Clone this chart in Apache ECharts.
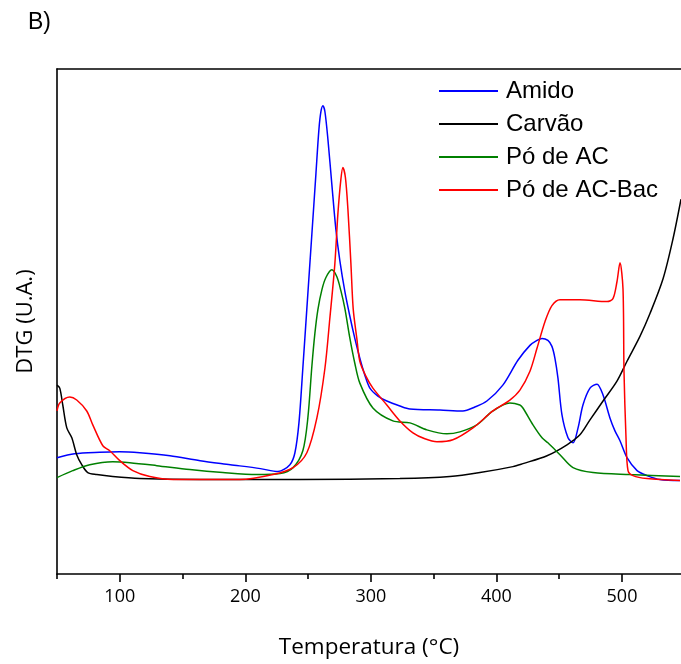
<!DOCTYPE html>
<html>
<head>
<meta charset="utf-8">
<script src="https://cdn.jsdelivr.net/npm/echarts@6/dist/echarts.min.js"></script>
<style>
  html, body { margin: 0; padding: 0; background: #fff; }
  #chart { width: 681px; height: 664px; }
</style>
</head>
<body>
<div id="chart"></div>
<script>
// values: temperature (°C) and DTG height (arbitrary units)
const amidoT = [50, 64, 84, 100, 116, 140, 164, 188, 212, 226, 235.5, 239.5, 242.7, 245.8, 249, 253, 256.2, 258.6, 260.2, 261.8, 263.4, 265.8, 268.9, 272.1, 275.3, 279.3, 283.3, 287.2, 291.2, 295.2, 299.2, 305.6, 312.7, 323.1, 331.1, 355, 373.3, 382.8, 392.4, 405.1, 417.1, 426.7, 432.3, 436.3, 441, 444.2, 446.6, 449, 452.2, 457, 461, 465, 468.9, 474.5, 480.1, 484.9, 490.4, 494.4, 498.4, 504, 512, 519.9, 530.3, 546.2]
const amidoV = [117, 121, 122.5, 123, 122, 119, 114, 110, 106, 103, 110, 122, 152, 207, 267, 342, 402, 447, 465, 471, 465, 437, 392, 347, 315, 284, 259, 237, 217, 200, 187, 179, 174, 169, 166, 165, 164, 168, 174, 190, 215, 230, 235, 237, 235, 229, 217, 197, 160, 137, 132, 147, 170, 187, 191, 180, 157, 144, 134, 117, 104, 99, 95, 94]

const carvaoT = [50, 52.2, 54.6, 57.8, 61.8, 65.7, 69.7, 74.5, 81.7, 94.4, 115.9, 163.9, 243.4, 323.1, 362.9, 386.9, 413.1, 421.1, 440.3, 456.2, 466.5, 474.5, 484.9, 496, 504, 514.3, 522.3, 532.7, 540.6, 547]
const carvaoV = [190, 187, 170, 147, 137, 120, 110, 102, 100, 98, 96, 95, 95, 96, 98, 102, 108, 111, 119, 130, 140, 155, 174, 194, 214, 239, 262, 297, 337, 377]

const poACT = [50, 62.5, 76.1, 94.4, 108, 129.5, 155.8, 182.1, 209.2, 227.6, 238, 245.8, 249.8, 253, 255.4, 257.8, 261, 264.1, 268.9, 272.9, 276.1, 279.3, 283.3, 287.2, 291.2, 301.6, 317.5, 331.1, 344.6, 360.5, 370.9, 384.4, 397.2, 410.7, 418.7, 421.1, 429.1, 436.3, 441, 450.6, 461, 476.9, 506.4, 546.2]
const poACV = [97, 104, 110, 113, 112, 109, 105, 102, 100, 101, 107, 124, 157, 209, 242, 266, 286, 298, 306, 299, 285, 267, 237, 212, 192, 167, 154, 152, 145, 141, 143, 150, 164, 172, 170, 167, 150, 137, 132, 120, 107, 102, 100, 98]

const poACBacT = [50, 52.2, 60.2, 65.7, 73.7, 78.5, 86.5, 92, 100, 110.4, 123.9, 142.2, 195.7, 222, 238, 249, 257, 263.4, 267.3, 271.3, 273.7, 276.1, 277.7, 279.7, 281.7, 284.1, 285.9, 288.8, 291.2, 296, 301.6, 312.7, 323.1, 333.5, 343, 352.6, 365.3, 381.3, 397.2, 410.7, 418.7, 426.7, 432.3, 438.7, 444.2, 450.6, 466.5, 488.1, 492.8, 496, 498.4, 500.8, 501.6, 503.2, 504.8, 508.8, 519.9, 546.2]
const poACBacV = [164, 172, 178, 175, 164, 150, 129, 124, 114, 104, 98, 95, 95, 100, 107, 122, 157, 207, 257, 312, 362, 397, 409, 399, 367, 312, 267, 237, 214, 199, 187, 170, 154, 142, 136, 133, 135, 147, 164, 175, 185, 204, 227, 254, 270, 276, 276, 274, 277, 294, 313, 287, 204, 137, 104, 99, 96, 94]

const majorTicks = [100, 200, 300, 400, 500]
const minorTicks = [50, 150, 250, 350, 450]

const names = ['Amido', 'Carvão', 'Pó de AC', 'Pó de AC-Bac']
const colors = ['#0000ff', '#000000', '#008000', '#ff0000']

function pairs(t, v){
  return t.map((x, i) => [x, v[i]])
}

const seriesData = [
  pairs(amidoT, amidoV),
  pairs(carvaoT, carvaoV),
  pairs(poACT, poACV),
  pairs(poACBacT, poACBacV)
]

const chart = echarts.init(document.getElementById('chart'), null, {renderer: 'canvas'})

const axisLineStyle = {color: '#000', width: 1.6}

const options = {
  animation: false,
  backgroundColor: '#fff',
  grid: {left: 57, right: 0, top: 69, bottom: 87},
  legend: {
    orient: 'vertical',
    left: 433,
    top: 74,
    itemWidth: 59,
    itemHeight: 14,
    itemGap: 9,
    data: names,
    itemStyle: {opacity: 0},
    textStyle: {
      fontFamily: 'Liberation Sans',
      fontSize: 24,
      lineHeight: 24,
      color: '#000',
      padding: [0, 0, 0, 3]
    }
  },
  graphic: [{
    type: 'text',
    left: 28,
    top: 11,
    style: {text: 'B)', fontFamily: 'Liberation Sans', fontSize: 23, fill: '#000'}
  }],
  xAxis: [
    {
      type: 'value',
      min: 50,
      max: 547,
      position: 'bottom',
      name: 'Temperatura (°C)',
      nameLocation: 'middle',
      nameGap: 62,
      nameTextStyle: {fontFamily: 'Open Sans', fontSize: 22.5, color: '#000'},
      axisLine: {show: true, onZero: false, lineStyle: axisLineStyle},
      axisTick: {show: true, customValues: majorTicks, length: 8, lineStyle: axisLineStyle},
      axisLabel: {customValues: majorTicks, fontFamily: 'Open Sans', fontSize: 18, color: '#000', margin: 14},
      splitLine: {show: false}
    },
    {
      type: 'value',
      min: 50,
      max: 547,
      position: 'bottom',
      axisLine: {show: false},
      axisTick: {show: true, customValues: minorTicks, length: 5, lineStyle: axisLineStyle},
      axisLabel: {show: false},
      splitLine: {show: false}
    },
    {
      type: 'value',
      min: 50,
      max: 547,
      position: 'top',
      axisLine: {show: true, onZero: false, lineStyle: axisLineStyle},
      axisTick: {show: false},
      axisLabel: {show: false},
      splitLine: {show: false}
    }
  ],
  yAxis: {
    type: 'value',
    min: 0,
    max: 508,
    name: 'DTG (U.A.)',
    nameLocation: 'middle',
    nameGap: 20,
    nameTextStyle: {fontFamily: 'Open Sans', fontSize: 22, color: '#000'},
    axisLine: {show: true, onZero: false, lineStyle: axisLineStyle},
    axisTick: {show: false},
    axisLabel: {show: false},
    splitLine: {show: false}
  },
  series: names.map((n, i) => ({
    name: n,
    type: 'line',
    data: seriesData[i],
    symbol: 'none',
    smooth: 0.3,
    color: colors[i],
    lineStyle: {width: 1.5, color: colors[i]}
  }))
}

chart.setOption(options)
</script>
</body>
</html>
